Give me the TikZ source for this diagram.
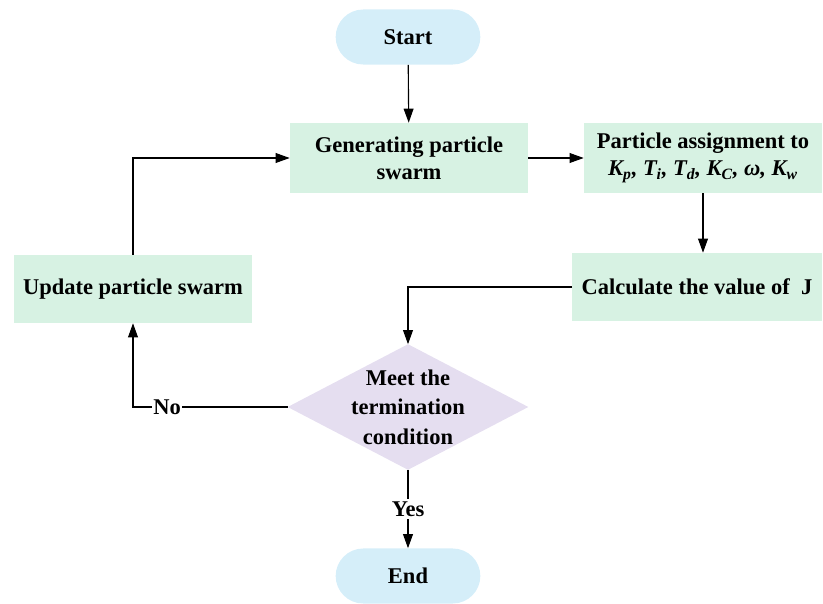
\documentclass[tikz,border=0pt]{standalone}
\usepackage{fontspec}
\setmainfont{Liberation Serif}
\usetikzlibrary{shapes.misc, positioning, arrows.meta, backgrounds}

\definecolor{termfill}{HTML}{D5EEF9}
\definecolor{procfill}{HTML}{D7F2E3}
\definecolor{checkfill}{HTML}{E5DEF0}

\begin{document}
\begin{tikzpicture}[
        x=0.025cm, y=-0.025cm,
        every node/.style={font=\fontsize{16}{19}\selectfont\bfseries, align=center},
        terminal/.style={rounded rectangle, fill=termfill, minimum width=3.85cm, minimum height=1.375cm, rounded rectangle arc length=180},
        process/.style={rectangle, fill=procfill, minimum width=5.95cm, minimum height=1.75cm, inner sep=2pt},
        decision/.style={rectangle, minimum width=6cm, minimum height=3.125cm, inner sep=0pt, font=\fontsize{16}{21}\selectfont\bfseries},
        flow/.style={-{Triangle[length=10pt, width=7pt]}, thick}
    ]
%
    \useasboundingbox (0,0) rectangle (823,604);
%
    % Terminals
    \node[terminal] (start) at (408,37) {Start};
    \node[terminal] (stop) at (408,576) {End};
%
    % Process boxes
    \node[process] (gen) at (409,158) {Generating particle\\swarm};
    \node[process] (assign) at (703,158) {Particle assignment to\\
        \textit{K\textsubscript{p}, T\textsubscript{i}, T\textsubscript{d}, K\textsubscript{C}, ω, K\textsubscript{w}}};
    \node[process, minimum width=6.225cm, minimum height=1.7cm] (calc) at (697,287) {Calculate the value of~~J};
    \node[process, minimum height=1.7cm] (update) at (133,289) {Update particle swarm};
%
    % Decision
    \node[decision] (check) at (408,407) {Meet the\\termination\\condition};
    \begin{scope}[on background layer]
        \fill[checkfill] (check.north) -- (check.east) -- (check.south) -- (check.west) -- cycle;
    \end{scope}
%
    % Connectors
    \draw[flow] (start) -- (gen);
    \draw[flow] (gen) -- (assign);
    \draw[flow] (assign) -- (assign |- calc.north);
    \draw[flow] (calc.west) -| (check.north);
    \draw[flow] (check.west) -| node[pos=0.39, fill=white, inner sep=1pt] {No} (update.south);
    \draw[flow] (update.north) |- (gen.west);
    \draw[flow] (check.south) -- node[fill=white, inner sep=2pt] {Yes} (stop.north);
%
\end{tikzpicture}
\end{document}
